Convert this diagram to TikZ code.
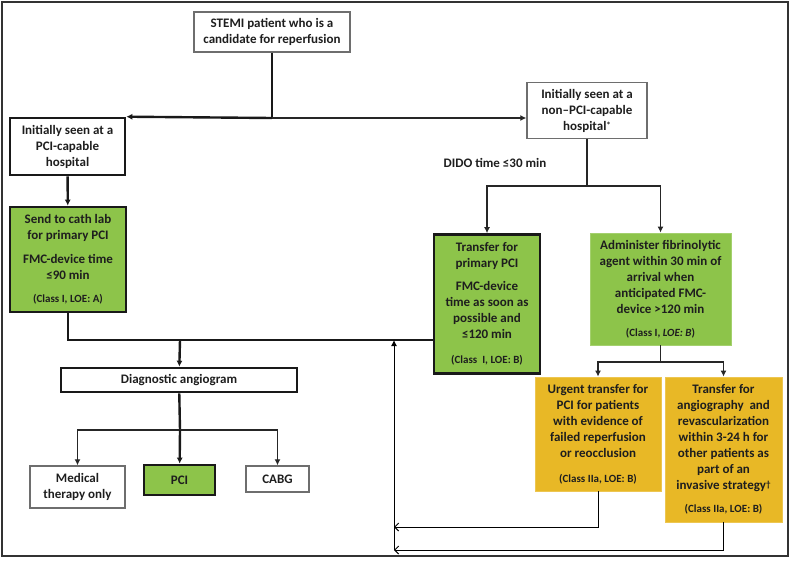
\documentclass[tikz,border=0pt]{standalone}
\usepackage{fontspec}
\setmainfont{Carlito}
\usetikzlibrary{arrows.meta}
\definecolor{boxgreen}{RGB}{141,196,74}
\definecolor{boxyellow}{RGB}{232,184,38}
\definecolor{edgegray}{RGB}{110,110,110}
\definecolor{txtdark}{RGB}{30,30,30}
\begin{document}
\begin{tikzpicture}
        [x=1pt,y=-1pt,
         every node/.style={align=center, inner sep=0pt, text=txtdark,
           font=\fontsize{13}{16}\selectfont\bfseries},
         plainbox/.style={draw=edgegray, line width=1.4pt, fill=white},
         heavybox/.style={draw=black!90, line width=2.6pt},
         greenbox/.style={fill=boxgreen},
         yellowbox/.style={fill=boxyellow, draw=boxyellow!80!white, line width=0.8pt},
         heavy/.style={line width=2.4pt, draw=black!90},
         light/.style={line width=1.3pt, draw=black!85},
         tip/.style={-{Latex[length=6pt,width=6pt]}},
         barb/.style={-{Straight Barb[length=4pt,width=8pt]}}]
      \newcommand{\cls}[1]{{\fontsize{11}{13}\selectfont #1}}
      \newcommand{\smallmark}[1]{\raisebox{2pt}{\fontsize{9}{9}\selectfont #1}}
      \useasboundingbox (0,0) rectangle (791,560);
      \draw[line width=1.5pt, draw=black!80] (2,2) rectangle (788,556);

      \node[plainbox, minimum width=156pt, minimum height=40pt] (stemi) at (272,32)
        {STEMI patient who is a\\candidate for reperfusion};
      \node[heavybox, fill=white, minimum width=115pt, minimum height=57pt] (pcicap) at (67.5,146.5)
        {Initially seen at a\\PCI-capable\\hospital};
      \node[plainbox, minimum width=120pt, minimum height=56pt] (nonpci) at (587,110.5)
        {Initially seen at a\\non–PCI-capable\\hospital\smallmark{*}};
      \node (dido) at (495,163) {DIDO time ≤30 min};
      \node[heavybox, greenbox, minimum width=116pt, minimum height=105pt] (send) at (68,259.5)
        {Send to cath lab\\for primary PCI\\[8pt]FMC-device time\\≤90 min\\[7pt]\cls{(Class I, LOE: A)}};
      \node[heavybox, greenbox, minimum width=106pt, minimum height=139pt] (transfer) at (487,304)
        {Transfer for\\primary PCI\\[7pt]FMC-device\\time as soon as\\possible and\\≤120 min\\[9pt]\cls{(Class\ \ I, LOE: B)}};
      \node[greenbox, draw=boxgreen!80!white, line width=0.8pt, minimum width=141pt, minimum height=112pt] (admin) at (660.5,289)
        {Administer fibrinolytic\\agent within 30 min of\\arrival when\\anticipated FMC-\\device >120 min\\[7pt]\cls{(Class I, \textit{LOE: B})}};
      \node[heavybox, fill=white, minimum width=236pt, minimum height=24pt] (diag) at (179,380)
        {Diagnostic angiogram};
      \node[plainbox, minimum width=95pt, minimum height=42pt] (med) at (77.5,487)
        {Medical\\therapy only};
      \node[heavybox, greenbox, minimum width=71pt, minimum height=30pt] (pci) at (179.5,480) {PCI};
      \node[plainbox, minimum width=63pt, minimum height=26pt] (cabg) at (277.5,479) {CABG};
      \node[yellowbox, minimum width=126pt, minimum height=114pt] (urgent) at (598,434)
        {Urgent transfer for\\PCI for patients\\with evidence of\\failed reperfusion\\or reocclusion\\[9pt]\cls{(Class IIa, LOE: B)}};
      \node[yellowbox, minimum width=117pt, minimum height=145pt] (angio) at (723.5,449.5)
        {Transfer for\\angiography\ \ and\\revascularization\\within 3-24 h for\\other patients as\\part of an\\invasive strategy\smallmark{†}\\[7pt]\cls{(Class IIa, LOE: B)}};

      % junctions
      \coordinate (j1) at (272,118);
      \coordinate (j2) at (587,186);
      \coordinate (j3) at (180,340);
      \coordinate (j4) at (180,430);
      \coordinate (j5) at (660.5,362);
      \coordinate (r0) at (394,340);
      \coordinate (r1) at (394,527);
      \coordinate (r2) at (394,550);

      \draw[heavy] (stemi) -- (j1);
      \draw[heavy, tip] (j1) -- (pcicap.north east);
      \draw[light, tip] (j1) -- (j1 -| nonpci.west);
      \draw[heavy, tip] (pcicap) -- (send);
      \draw[light] (nonpci) -- (j2);
      \foreach \to in {transfer, admin}
        \draw[light, tip] (j2) -| (\to.north);
      \draw[heavy] (send.south) |- (j3 -| transfer.west);
      \draw[heavy, tip] (j3) -- (diag);
      \draw[heavy] (diag) -- (j4);
      \foreach \to in {med, cabg}
        \draw[light, tip] (j4) -| (\to.north);
      \draw[heavy, tip] (j4) -- (pci);
      \draw[light] (admin) -- (j5);
      \foreach \to in {urgent, angio}
        \draw[light, tip] (j5) -| (\to.north);
      \draw[line width=1pt, barb] (urgent.south) |- (r1);
      \draw[line width=1pt, barb] (angio.south) |- (r2);
      \draw[line width=1pt, tip] (r2) -- (r0);
    \end{tikzpicture}
\end{document}
